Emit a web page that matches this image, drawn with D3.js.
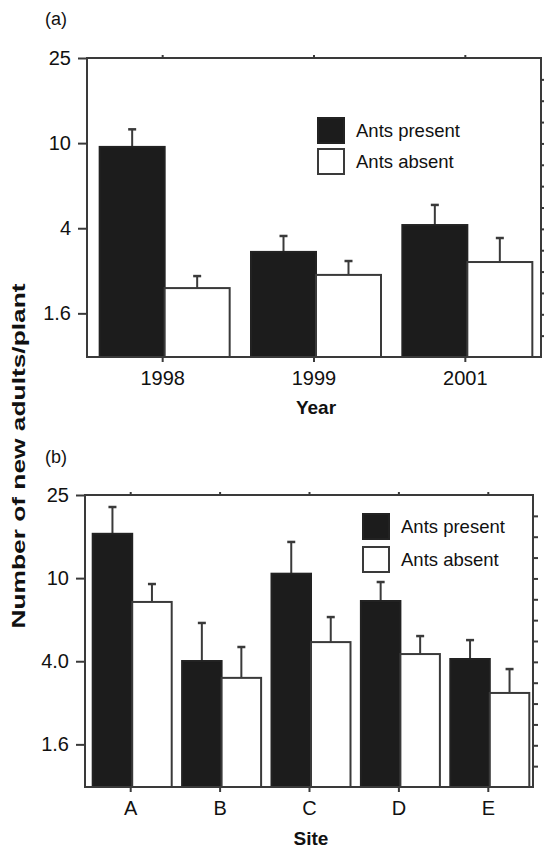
<!DOCTYPE html>
<html>
<head>
<meta charset="utf-8">
<script src="https://cdn.jsdelivr.net/npm/d3@7"></script>
<style>
  body { margin: 0; background: #fff; }
  svg { display: block; }
  text { font-family: "Liberation Sans", Arial, Helvetica, sans-serif; fill: #111; }
</style>
</head>
<body>
<svg id="chart" width="544" height="852"></svg>
<script>
// Panel (a): new adults per plant by year
const years = ["1998", "1999", "2001"];
const yearPresent = [9.6, 3.1, 4.14];
const yearPresentUpper = [11.6, 3.68, 5.14];   // top of the error bar
const yearAbsent = [2.1, 2.42, 2.78];
const yearAbsentUpper = [2.39, 2.81, 3.6];

// Panel (b): new adults per plant by site
const sites = ["A", "B", "C", "D", "E"];
const sitePresent = [16.3, 4.01, 10.5, 7.77, 4.1];
const sitePresentUpper = [21.9, 6.1, 14.9, 9.58, 5.05];
const siteAbsent = [7.69, 3.33, 4.94, 4.33, 2.82];
const siteAbsentUpper = [9.37, 4.68, 6.51, 5.28, 3.67];

// Axis ticks
const yTickValues = [1.6, 4, 10, 25];
const yTickLabelsA = ["1.6", "4", "10", "25"];
const yTickLabelsB = ["1.6", "4.0", "10", "25"];
const rightTickValues = [1, 2, 3, 4, 5, 6, 7, 8, 9, 10, 11, 12, 13];
const seriesNames = ["Ants present", "Ants absent"];

const svg = d3.select("#chart");
const lineColor = "#3a3a3a";
const darkFill = "#1c1c1c";

function drawPanel(cfg) {
  const g = svg.append("g");
  const y = d3.scaleLog().domain([1, 25]).range([cfg.bottom, cfg.top]);
  const x = d3.scaleBand().domain(cfg.categories).range([cfg.left, cfg.right]).padding(0);
  const x1 = d3.scaleBand().domain(seriesNames).range(cfg.innerRange).padding(0);
  const yRight = d3.scaleLinear().domain([0, 14]).range([cfg.bottom, cfg.top]);

  const rows = [];
  cfg.categories.forEach((c, i) => {
    rows.push({ cat: c, s: seriesNames[0], v: cfg.present[i], up: cfg.presentUpper[i] });
    rows.push({ cat: c, s: seriesNames[1], v: cfg.absent[i], up: cfg.absentUpper[i] });
  });
  const cx = d => x(d.cat) + x.bandwidth() / 2;

  // error bars (upper only)
  const eb = g.append("g").attr("stroke", lineColor).attr("stroke-width", 2);
  rows.forEach(d => {
    const xm = cx(d) + x1(d.s) + x1.bandwidth() / 2;
    eb.append("line").attr("x1", xm).attr("x2", xm).attr("y1", y(d.v)).attr("y2", y(d.up));
    eb.append("line").attr("x1", xm - 4).attr("x2", xm + 4).attr("y1", y(d.up)).attr("y2", y(d.up)).attr("stroke-width", 2.5);
  });

  // bars
  g.append("g").selectAll("rect").data(rows).join("rect")
    .attr("x", d => cx(d) + x1(d.s))
    .attr("width", x1.bandwidth())
    .attr("y", d => y(d.v))
    .attr("height", d => y(1) - y(d.v))
    .attr("fill", d => d.s === seriesNames[0] ? darkFill : "#fff")
    .attr("stroke", d => d.s === seriesNames[0] ? "#222" : lineColor)
    .attr("stroke-width", 2);

  // frame
  g.append("rect")
    .attr("x", cfg.frameLeft).attr("y", cfg.top)
    .attr("width", cfg.right - cfg.frameLeft).attr("height", cfg.bottom - cfg.top)
    .attr("fill", "none").attr("stroke", lineColor).attr("stroke-width", 2);

  // left axis
  const yAxis = d3.axisLeft(y).tickValues(yTickValues)
    .tickFormat((d, i) => cfg.yLabels[i]).tickSize(9).tickPadding(7);
  const ya = g.append("g").attr("transform", `translate(${cfg.frameLeft},0)`).call(yAxis);
  ya.select(".domain").remove();
  ya.selectAll(".tick line").attr("stroke", lineColor).attr("stroke-width", 2);
  ya.selectAll(".tick text").attr("font-size", 20).attr("fill", "#111")
    .attr("font-family", "Liberation Sans, Arial, sans-serif");

  // right axis: unlabelled ticks
  const yr = g.append("g").attr("transform", `translate(${cfg.right},0)`)
    .call(d3.axisRight(yRight).tickValues(rightTickValues).tickSize(5).tickFormat(""));
  yr.select(".domain").remove();
  yr.selectAll(".tick line").attr("stroke", lineColor).attr("stroke-width", 2);

  // bottom axis
  const xa = g.append("g").attr("transform", `translate(0,${cfg.bottom})`)
    .call(d3.axisBottom(x).tickSize(5).tickPadding(9));
  xa.select(".domain").remove();
  xa.selectAll(".tick line").attr("stroke", lineColor).attr("stroke-width", 2);
  xa.selectAll(".tick text").attr("font-size", 20).attr("fill", "#111")
    .attr("font-family", "Liberation Sans, Arial, sans-serif");

  // top axis ticks
  const xt = g.append("g").attr("transform", `translate(0,${cfg.top})`)
    .call(d3.axisTop(x).tickSize(3).tickFormat(""));
  xt.select(".domain").remove();
  xt.selectAll(".tick line").attr("stroke", lineColor).attr("stroke-width", 2);

  // x title
  g.append("text").attr("x", (cfg.frameLeft + cfg.right) / 2 + 2).attr("y", cfg.titleY)
    .attr("text-anchor", "middle").attr("font-size", 19).attr("font-weight", "bold")
    .text(cfg.xTitle);

  // panel letter
  g.append("text").attr("x", 45).attr("y", cfg.letterY).attr("font-size", 18).text(cfg.letter);

  // legend
  const lg = g.append("g");
  seriesNames.forEach((s, i) => {
    const yy = cfg.legendY + i * cfg.legendStep;
    lg.append("rect").attr("x", cfg.legendX).attr("y", yy).attr("width", 26).attr("height", 25)
      .attr("fill", i === 0 ? darkFill : "#fff")
      .attr("stroke", i === 0 ? "#222" : lineColor).attr("stroke-width", 2);
    lg.append("text").attr("x", cfg.legendX + 38).attr("y", yy + 19)
      .attr("font-size", 18.5).text(s);
  });
}

drawPanel({
  categories: years, present: yearPresent, presentUpper: yearPresentUpper,
  absent: yearAbsent, absentUpper: yearAbsentUpper,
  left: 87, frameLeft: 87, right: 541, top: 58, bottom: 357,
  innerRange: [-63, 67], yLabels: yTickLabelsA,
  xTitle: "Year", titleY: 414, letter: "(a)", letterY: 25,
  legendX: 318, legendY: 118, legendStep: 31
});

drawPanel({
  categories: sites, present: sitePresent, presentUpper: sitePresentUpper,
  absent: siteAbsent, absentUpper: siteAbsentUpper,
  left: 86, frameLeft: 85, right: 533, top: 495, bottom: 787,
  innerRange: [-38, 41], yLabels: yTickLabelsB,
  xTitle: "Site", titleY: 845, letter: "(b)", letterY: 463,
  legendX: 363, legendY: 514, legendStep: 33
});

// shared y-axis title
svg.append("text")
  .attr("transform", "translate(25,456) rotate(-90)")
  .attr("text-anchor", "middle").attr("font-size", 18).attr("font-weight", "bold")
  .attr("textLength", 345).attr("lengthAdjust", "spacingAndGlyphs")
  .text("Number of new adults/plant");
</script>
</body>
</html>
